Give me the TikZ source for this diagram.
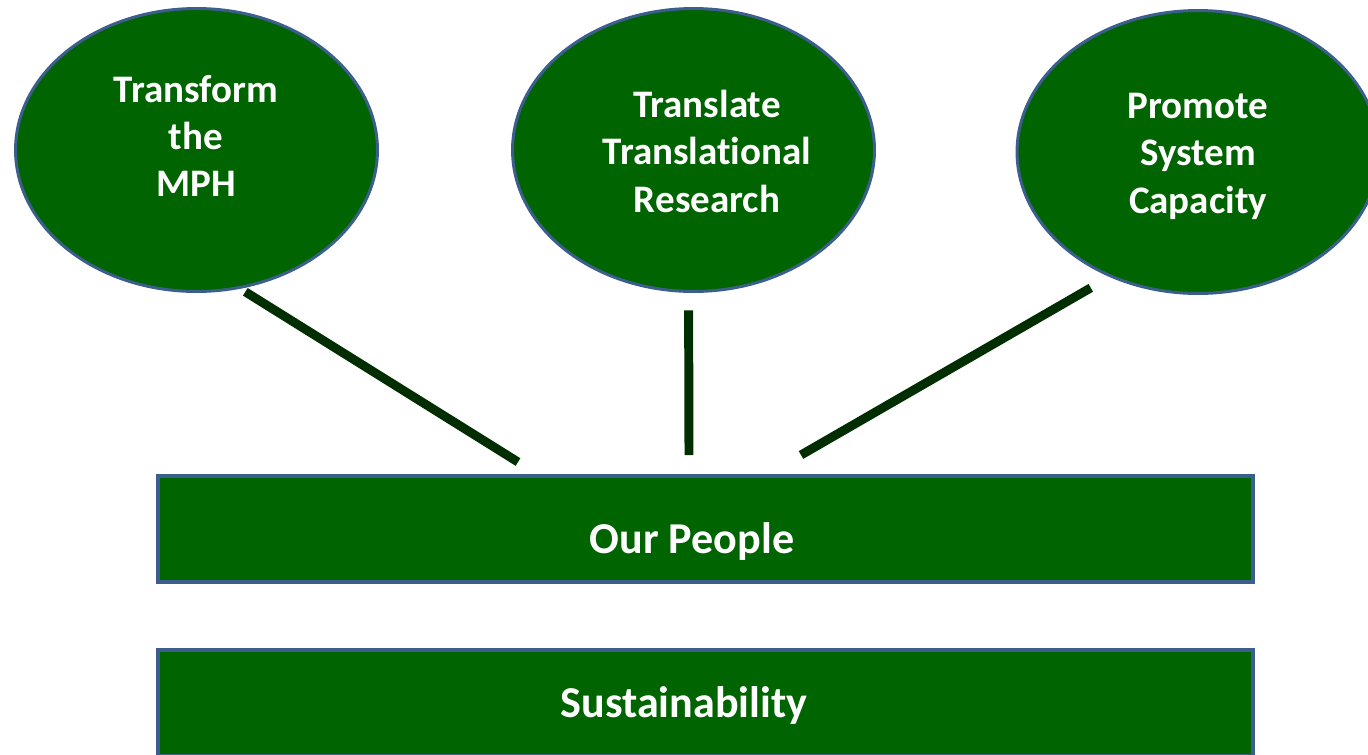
\documentclass[tikz,border=0pt]{standalone}
\usepackage{fontspec}
\setmainfont{Carlito}[Ligatures=NoCommon]
\usetikzlibrary{positioning,shapes.geometric}
\definecolor{plfill}{RGB}{0,100,0}
\definecolor{pledge}{RGB}{60,94,140}
\definecolor{pllink}{RGB}{0,46,0}
\tikzset{
  goal/.style={
    ellipse, draw=pledge, fill=plfill, line width=1.7pt, outer sep=0pt,
    minimum width=7.24cm, minimum height=5.66cm
  },
  bar/.style={
    rectangle, draw=pledge, fill=plfill, line width=2.3pt, outer sep=0pt,
    minimum width=21.9cm, minimum height=2.12cm
  },
  goaltext/.style={
    align=center, text=white, text depth=0pt, inner sep=0pt,
    font=\fontsize{22.2}{27}\selectfont\bfseries
  },
  bartext/.style={
    text=white, inner sep=0pt, anchor=base,
    font=\fontsize{25.1}{30}\selectfont\bfseries
  },
  link/.style={draw=pllink, line width=5.1pt}
}
\begin{document}
\begin{tikzpicture}[x=0.02cm, y=-0.02cm]
  \useasboundingbox (0,0) rectangle (1368,754);
  % three goals on top
  \node[goal] (mph) at (196.5,150) {};
  \node[goal] (trans) at (693.5,150) {};
  \node[goal] (cap) at (1198,152) {};
  \node[goaltext] (mphtxt) at (196,136) {Transform\\the\\MPH};
  \node[goaltext] (transtxt) at (707,151) {Translate\\Translational\\Research};
  \node[goaltext] (captxt) at (1198,153) {Promote\\System\\Capacity};
  % foundations
  \node[bar] (people) at (705.5,529) {};
  \node[bar, below=1.36cm of people] (sust) {};
  \node[bartext] (peopletxt) at (692,553) {Our People};
  \node[bartext] (susttxt) at (684,717) {Sustainability};
  % spokes down to the people bar
  \coordinate (j1) at (518,462);
  \coordinate (j2) at (689,455);
  \coordinate (j3) at (801,455);
  \draw[link, shorten <=0.16cm] (mph.-73) -- (j1);
  \draw[link, shorten <=0.38cm] (trans.-92) -- (j2);
  \draw[link, shorten <=0.47cm] (cap.-125) -- (j3);
\end{tikzpicture}
\end{document}
